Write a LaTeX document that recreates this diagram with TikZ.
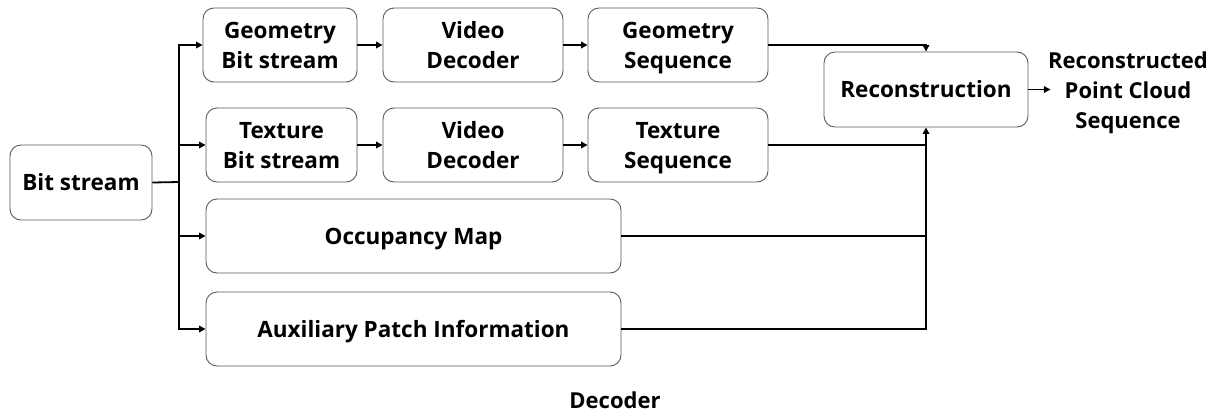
\documentclass[tikz,border=0pt]{standalone}
\usepackage{fontspec}
\setmainfont{Open Sans}
\usetikzlibrary{arrows.meta,calc}
% one text line with a fixed height and depth, so lines sit evenly in boxes
\newcommand\tline[1]{\rule[-7pt]{0pt}{30pt}#1}
\tikzset{
  blk/.style={draw=black!65, line width=0.9pt, rounded corners=11pt, align=center,
    font=\bfseries\fontsize{22.5}{30}\selectfont, inner sep=0pt},
  lbl/.style={align=center, font=\bfseries\fontsize{22}{30}\selectfont, inner sep=0pt},
  wire/.style={line width=1.8pt, black},
  arr/.style={wire, -{Triangle[length=6.5pt,width=6.5pt]}},
}
\begin{document}
\begin{tikzpicture}[x=1pt,y=-1pt]
\useasboundingbox (0,0) rectangle (1229,416);
% blocks, given by their corners
\newcommand\blkat[6]{\node[blk, minimum width=#4-#2, minimum height=#5-#3] (#1) at ({(#2+#4)/2},{(#3+#5)/2}) {#6};}
\blkat{bs}{10}{145}{152}{220}{\tline{Bit stream}}
\blkat{gbs}{203}{8}{357}{82}{\tline{Geometry}\\\tline{Bit stream}}
\blkat{gvd}{383}{8}{563}{82}{\tline{Video}\\\tline{Decoder}}
\blkat{gsq}{588}{8}{768}{82}{\tline{Geometry}\\\tline{Sequence}}
\blkat{tbs}{206}{108}{357}{182}{\tline{Texture}\\\tline{Bit stream}}
\blkat{tvd}{383}{108}{563}{182}{\tline{Video}\\\tline{Decoder}}
\blkat{tsq}{588}{108}{768}{182}{\tline{Texture}\\\tline{Sequence}}
\blkat{occ}{206}{199}{621}{273}{\tline{Occupancy Map}}
\blkat{aux}{206}{292}{621}{366}{\tline{Auxiliary Patch Information}}
\blkat{rec}{824}{52}{1028}{127}{\tline{Reconstruction}}
\node[lbl] (out) at (1128,90) {\tline{Reconstructed}\\\tline{Point Cloud}\\\tline{Sequence}};
\node[lbl] (dec) at (615,400) {\tline{Decoder}};
% fan-out from the input bit stream
\coordinate (trunk) at (179,182);
\draw[wire] (bs.east) -- (trunk);
\draw[arr] (trunk) |- (gbs.west);
\draw[arr] (trunk) |- (tbs.west);
\draw[arr] (trunk) |- (occ.west);
\draw[arr] (trunk) |- (aux.west);
% decoding chains
\draw[arr] (gbs) -- (gvd);
\draw[arr] (gvd) -- (gsq);
\draw[arr] (tbs) -- (tvd);
\draw[arr] (tvd) -- (tsq);
% into reconstruction
\draw[arr] (gsq.east) -| (rec.north);
\draw[wire] (tsq.east) -- (tsq.east -| rec.south);
\draw[wire] (occ.east) -- (occ.east -| rec.south);
\draw[arr] (aux.east) -| (rec.south);
\draw[arr] (rec.east) -- ($(rec.east)+(22,0)$) coordinate (outin);
\end{tikzpicture}
\end{document}
